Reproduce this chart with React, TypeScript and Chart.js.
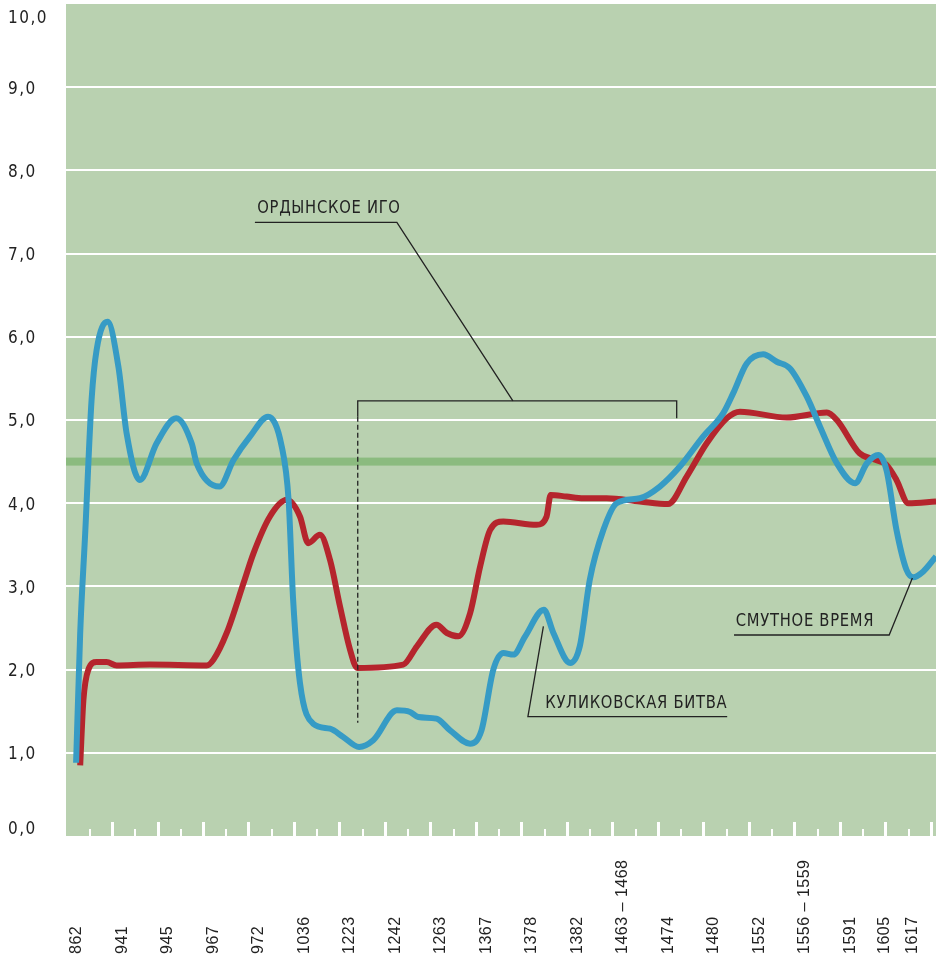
import React, { useEffect, useRef } from "react";
import { Chart, registerables } from "chart.js";

Chart.register(...registerables);

// ---- Data ----
const xLabels = [
  "862", "941", "945", "967", "972", "1036", "1223", "1242", "1263", "1367",
  "1378", "1382", "1463 – 1468", "1474", "1480", "1552", "1556 – 1559", "1591", "1605", "1617",
];
// position of each label on the index axis
const labelPos = [0, 1, 2, 3, 4, 5, 6, 7, 8, 9, 10, 11, 12, 13, 14, 15, 16, 17, 17.76, 18.37];
const yTickValues = [0, 1, 2, 3, 4, 5, 6, 7, 8, 9, 10];
const yTickLabels = ["0,0", "1,0", "2,0", "3,0", "4,0", "5,0", "6,0", "7,0", "8,0", "9,0", "10,0"];
const threshold = 4.5;

// blue series: [index position, value]
const blueSeries: [number, number][] = [
  [-0.02, 0.88], [0.07, 2.44], [0.18, 3.64], [0.32, 5.24], [0.43, 5.84], [0.67, 6.18],
  [0.91, 5.64], [1.09, 4.84], [1.38, 4.28], [1.75, 4.72], [2.18, 5.02], [2.52, 4.72],
  [2.63, 4.48], [3.13, 4.2], [3.44, 4.52], [3.8, 4.8], [4.2, 5.04], [4.5, 4.68],
  [4.65, 4.04], [4.75, 2.84], [4.9, 1.84], [5.19, 1.35], [5.56, 1.29], [5.85, 1.19],
  [6.2, 1.07], [6.51, 1.15], [7.03, 1.51], [7.32, 1.49], [7.5, 1.43], [7.9, 1.41],
  [8.2, 1.27], [8.64, 1.11], [8.89, 1.27], [9.15, 2.0], [9.37, 2.2], [9.59, 2.18],
  [9.85, 2.4], [10.26, 2.72], [10.47, 2.44], [10.84, 2.08], [11.05, 2.28], [11.27, 3.08],
  [11.57, 3.68], [11.86, 4.0], [12.37, 4.06], [12.81, 4.2], [13.25, 4.44], [13.76, 4.8],
  [14.2, 5.08], [14.42, 5.32], [14.72, 5.68], [15.08, 5.79], [15.38, 5.7], [15.67, 5.62],
  [16.04, 5.28], [16.33, 4.92], [16.7, 4.48], [17.1, 4.24], [17.36, 4.48], [17.61, 4.58],
  [17.79, 4.4], [18.01, 3.68], [18.23, 3.2], [18.38, 3.11], [18.6, 3.18], [18.88, 3.36],
];

// red series: [index position, value]
const redSeries: [number, number][] = [
  [0.07, 0.85], [0.14, 1.63], [0.25, 2.0], [0.43, 2.09], [0.65, 2.09], [0.87, 2.05],
  [1.6, 2.06], [2.85, 2.05], [3.0, 2.12], [3.29, 2.44], [3.66, 3.04], [3.88, 3.4],
  [4.24, 3.84], [4.61, 4.04], [4.9, 3.84], [5.08, 3.52], [5.34, 3.62], [5.56, 3.32],
  [5.78, 2.76], [6.0, 2.24], [6.16, 2.02], [7.17, 2.06], [7.47, 2.28], [7.9, 2.54],
  [8.13, 2.44], [8.38, 2.4], [8.64, 2.68], [8.86, 3.24], [9.08, 3.68], [9.37, 3.78],
  [10.1, 3.74], [10.32, 3.84], [10.41, 4.1], [10.76, 4.08], [11.13, 4.06], [11.64, 4.06],
  [12.37, 4.02], [12.99, 3.99], [13.4, 4.32], [13.84, 4.72], [14.28, 5.02], [14.57, 5.1],
  [15.6, 5.03], [16.48, 5.09], [16.7, 5.0], [17.2, 4.6], [17.5, 4.53], [17.79, 4.46],
  [18.01, 4.28], [18.27, 4.0], [18.88, 4.02],
];

// annotations (in axis units)
const hordeLabel = { text: "ОРДЫНСКОЕ ИГО", x: 3.96, y: 7.49 };
const hordeLeader: [number, number][] = [[3.91, 7.375], [7.03, 7.375], [9.58, 5.23]];
const hordeBracket: [number, number][] = [[6.17, 5.04], [6.17, 5.23], [13.18, 5.23], [13.18, 5.02]];
const hordeDashed: [number, number][] = [[6.17, 5.04], [6.17, 1.36]];
const kulikovoLabel = { text: "КУЛИКОВСКАЯ БИТВА", x: 10.29, y: 1.54 };
const kulikovoLeader: [number, number][] = [[14.29, 1.434], [9.91, 1.434], [10.25, 2.52]];
const smutaLabel = { text: "СМУТНОЕ ВРЕМЯ", x: 14.48, y: 2.52 };
const smutaLeader: [number, number][] = [[14.44, 2.416], [17.85, 2.416], [18.36, 3.1]];

const BG = "#b9d1b0";
const BAND = "#8bbb7f";
const BLUE = "#369bc5";
const RED = "#b5252d";
const INK = "#222222";
const NARROW = '"Liberation Sans Narrow", "DejaVu Sans Condensed", "Liberation Sans", sans-serif';
const REGULAR = '"Liberation Sans", Arial, sans-serif';

const decorPlugin = {
  id: "decor",
  beforeDraw(chart: any) {
    const { ctx, chartArea: a } = chart;
    ctx.save();
    ctx.fillStyle = BG;
    ctx.fillRect(a.left, a.top, a.right - a.left, a.bottom - a.top);
    ctx.restore();
  },
  beforeDatasetsDraw(chart: any) {
    const { ctx, chartArea: a, scales } = chart;
    const xs = scales.x;
    const ys = scales.y;
    ctx.save();
    const yb = ys.getPixelForValue(threshold);
    ctx.fillStyle = BAND;
    ctx.fillRect(a.left, yb - 4, a.right - a.left, 8);
    ctx.fillStyle = "#ffffff";
    for (let n = 0; n < 19; n++) {
      const xt = xs.getPixelForValue(n + 0.78);
      ctx.fillRect(Math.round(xt - 1.5), a.bottom - 14, 3, 14);
      const xm = xs.getPixelForValue(n + 0.28);
      ctx.fillRect(Math.round(xm - 1), a.bottom - 7, 2, 7);
    }
    ctx.restore();
  },
  afterDatasetsDraw(chart: any) {
    const { ctx, scales } = chart;
    const xs = scales.x;
    const ys = scales.y;
    const P = (p: [number, number]) => [xs.getPixelForValue(p[0]), ys.getPixelForValue(p[1])];
    const poly = (pts: [number, number][], dash: number[] = []) => {
      ctx.beginPath();
      ctx.setLineDash(dash);
      pts.forEach((p, i) => {
        const [x, y] = P(p);
        if (i === 0) ctx.moveTo(x, y);
        else ctx.lineTo(x, y);
      });
      ctx.stroke();
    };
    ctx.save();
    ctx.strokeStyle = INK;
    ctx.lineWidth = 1.3;
    poly(hordeLeader);
    poly(hordeBracket);
    poly(hordeDashed, [5, 3]);
    poly(kulikovoLeader);
    poly(smutaLeader);
    ctx.setLineDash([]);
    ctx.fillStyle = INK;
    ctx.font = `18px ${NARROW}`;
    (ctx as any).letterSpacing = "0.8px";
    ctx.textAlign = "left";
    ctx.textBaseline = "alphabetic";
    for (const l of [hordeLabel, kulikovoLabel, smutaLabel]) {
      const [x, y] = P([l.x, l.y]);
      ctx.save();
      ctx.translate(x, y);
      ctx.scale(0.91, 1);
      ctx.fillText(l.text, 0, 0);
      ctx.restore();
    }
    ctx.restore();
  },
  afterDraw(chart: any) {
    const { ctx, chartArea: a, scales } = chart;
    const xs = scales.x;
    const ys = scales.y;
    ctx.save();
    ctx.fillStyle = INK;
    ctx.font = `17px ${NARROW}`;
    (ctx as any).letterSpacing = "1.5px";
    ctx.textAlign = "left";
    ctx.textBaseline = "middle";
    yTickValues.forEach((v, i) => {
      let y = ys.getPixelForValue(v) + 2;
      y = Math.max(a.top + 15, Math.min(a.bottom - 6, y));
      ctx.fillText(yTickLabels[i], 8, y);
    });
    ctx.font = `16px ${REGULAR}`;
    (ctx as any).letterSpacing = "0.5px";
    ctx.textBaseline = "middle";
    ctx.textAlign = "left";
    xLabels.forEach((t, i) => {
      const x = xs.getPixelForValue(labelPos[i]);
      ctx.save();
      ctx.translate(x, 954);
      ctx.rotate(-Math.PI / 2);
      ctx.fillText(t, 0, 0);
      ctx.restore();
    });
    ctx.restore();
  },
};

export default function App() {
  const ref = useRef<HTMLCanvasElement | null>(null);
  useEffect(() => {
    if (!ref.current) return;
    const chart = new Chart(ref.current, {
      type: "line",
      data: {
        datasets: [
          {
            data: blueSeries.map(([x, y]) => ({ x, y })),
            borderColor: BLUE,
            borderWidth: 6,
            pointRadius: 0,
            cubicInterpolationMode: "monotone",
            borderJoinStyle: "round",
            fill: false,
          },
          {
            data: redSeries.map(([x, y]) => ({ x, y })),
            borderColor: RED,
            borderWidth: 6,
            pointRadius: 0,
            cubicInterpolationMode: "monotone",
            borderJoinStyle: "round",
            fill: false,
          },
        ],
      },
      options: {
        responsive: false,
        maintainAspectRatio: false,
        devicePixelRatio: 1,
        animation: false,
        layout: { padding: { top: 4, left: 0, right: 0, bottom: 0 } },
        plugins: { legend: { display: false }, tooltip: { enabled: false } },
        events: [],
        scales: {
          x: {
            type: "linear",
            min: -0.242,
            max: 18.879,
            grid: { display: false },
            border: { display: false },
            ticks: { display: false },
            afterFit: (s: any) => {
              s.height = 121;
            },
          },
          y: {
            min: 0,
            max: 10,
            ticks: { display: false, stepSize: 1 },
            border: { display: false },
            grid: {
              drawTicks: false,
              lineWidth: 2,
              color: (c: any) =>
                c.tick && (c.tick.value === 0 || c.tick.value === 10) ? "rgba(0,0,0,0)" : "#ffffff",
            },
            afterFit: (s: any) => {
              s.width = 66;
            },
          },
        },
      } as any,
      plugins: [decorPlugin],
    });
    return () => chart.destroy();
  }, []);
  return (
    <div style={{ position: "absolute", left: 0, top: 0, width: 936, height: 957 }}>
      <canvas ref={ref} width={936} height={957} style={{ display: "block" }} />
    </div>
  );
}
